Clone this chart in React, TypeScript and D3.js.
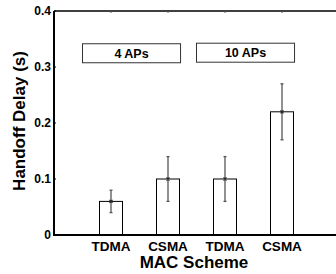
import React from "react";
import * as d3 from "d3";

const categories = ["TDMA", "CSMA", "TDMA", "CSMA"];
const means = [0.06, 0.1, 0.1, 0.22];
const lows = [0.04, 0.06, 0.06, 0.17];
const highs = [0.08, 0.14, 0.14, 0.27];
const yTicks = [0, 0.1, 0.2, 0.3, 0.4];
const groupLabels = ["4 APs", "10 APs"];
const groupSpans = [[0.5, 2.22], [2.5, 4.22]];
const groupBoxTop = [0.3415, 0.3425];

export default function App() {
  const W = 336, H = 274;
  const x = d3.scaleLinear().domain([0, 5]).range([54, 339]);
  const y = d3.scaleLinear().domain([0, 0.4]).range([235, 11]);
  const bw = 23;
  const font = "Liberation Sans, Arial, sans-serif";
  return (
    <svg width={W} height={H} style={{ position: "absolute", left: 0, top: 0, background: "#fff" }}>
      <line x1={x(0)} x2={W} y1={y(0.4)} y2={y(0.4)} stroke="#000" strokeWidth={1.3} />
      {categories.map((_, i) => (
        <line key={"tt" + i} x1={x(i + 1)} x2={x(i + 1)} y1={y(0.4)} y2={y(0.4) + 2} stroke="#555" strokeWidth={1} />
      ))}
      {means.map((m, i) => (
        <rect key={"b" + i} x={x(i + 1) - bw / 2} y={y(m)} width={bw} height={y(0) - y(m)} fill="#fff" stroke="#000" strokeWidth={1} />
      ))}
      {means.map((m, i) => {
        const cx = x(i + 1);
        return (
          <g key={"e" + i} stroke="#555" strokeWidth={1.3}>
            <line x1={cx} x2={cx} y1={y(lows[i])} y2={y(highs[i])} />
            <line x1={cx - 1.5} x2={cx + 1.5} y1={y(lows[i])} y2={y(lows[i])} />
            <line x1={cx - 1.5} x2={cx + 1.5} y1={y(highs[i])} y2={y(highs[i])} />
            <path d={`M${cx - 1.5},${y(m) - 1.5}L${cx + 1.5},${y(m) + 1.5}M${cx - 1.5},${y(m) + 1.5}L${cx + 1.5},${y(m) - 1.5}`} stroke="#222" strokeWidth={1.2} />
          </g>
        );
      })}
      {yTicks.map((t) => (
        <g key={"y" + t}>
          <line x1={x(0)} x2={x(0) + 2} y1={y(t)} y2={y(t)} stroke="#000" strokeWidth={1} />
          <text x={x(0) - 3} y={y(t)} dy="0.36em" textAnchor="end" fontFamily={font} fontWeight="bold" fontSize={12}>
            {t === 0 ? "0" : t.toFixed(1)}
          </text>
        </g>
      ))}
      <line x1={x(0)} x2={W} y1={y(0)} y2={y(0)} stroke="#000" strokeWidth={2} />
      <line x1={x(0)} x2={x(0)} y1={y(0.4)} y2={y(0) + 1} stroke="#000" strokeWidth={2} />
      {categories.map((c, i) => (
        <text key={"xl" + i} x={x(i + 1)} y={251} textAnchor="middle" fontFamily={font} fontWeight="bold" fontSize={13.5}>
          {c}
        </text>
      ))}
      <text x={194} y={268} textAnchor="middle" fontFamily={font} fontWeight="bold" fontSize={17}>
        MAC Scheme
      </text>
      <text transform={`translate(25,121) rotate(-90)`} textAnchor="middle" fontFamily={font} fontWeight="bold" fontSize={17}>
        Handoff Delay (s)
      </text>
      {groupLabels.map((g, i) => {
        const x0 = x(groupSpans[i][0]);
        const x1 = x(groupSpans[i][1]);
        const yt = y(groupBoxTop[i]);
        return (
          <g key={"g" + i}>
            <rect x={x0} y={yt} width={x1 - x0} height={19} fill="#fff" stroke="#333" strokeWidth={1} />
            <text x={(x0 + x1) / 2} y={yt + 9.5} dy="0.36em" textAnchor="middle" fontFamily={font} fontWeight="bold" fontSize={12.5}>
              {g}
            </text>
          </g>
        );
      })}
    </svg>
  );
}
